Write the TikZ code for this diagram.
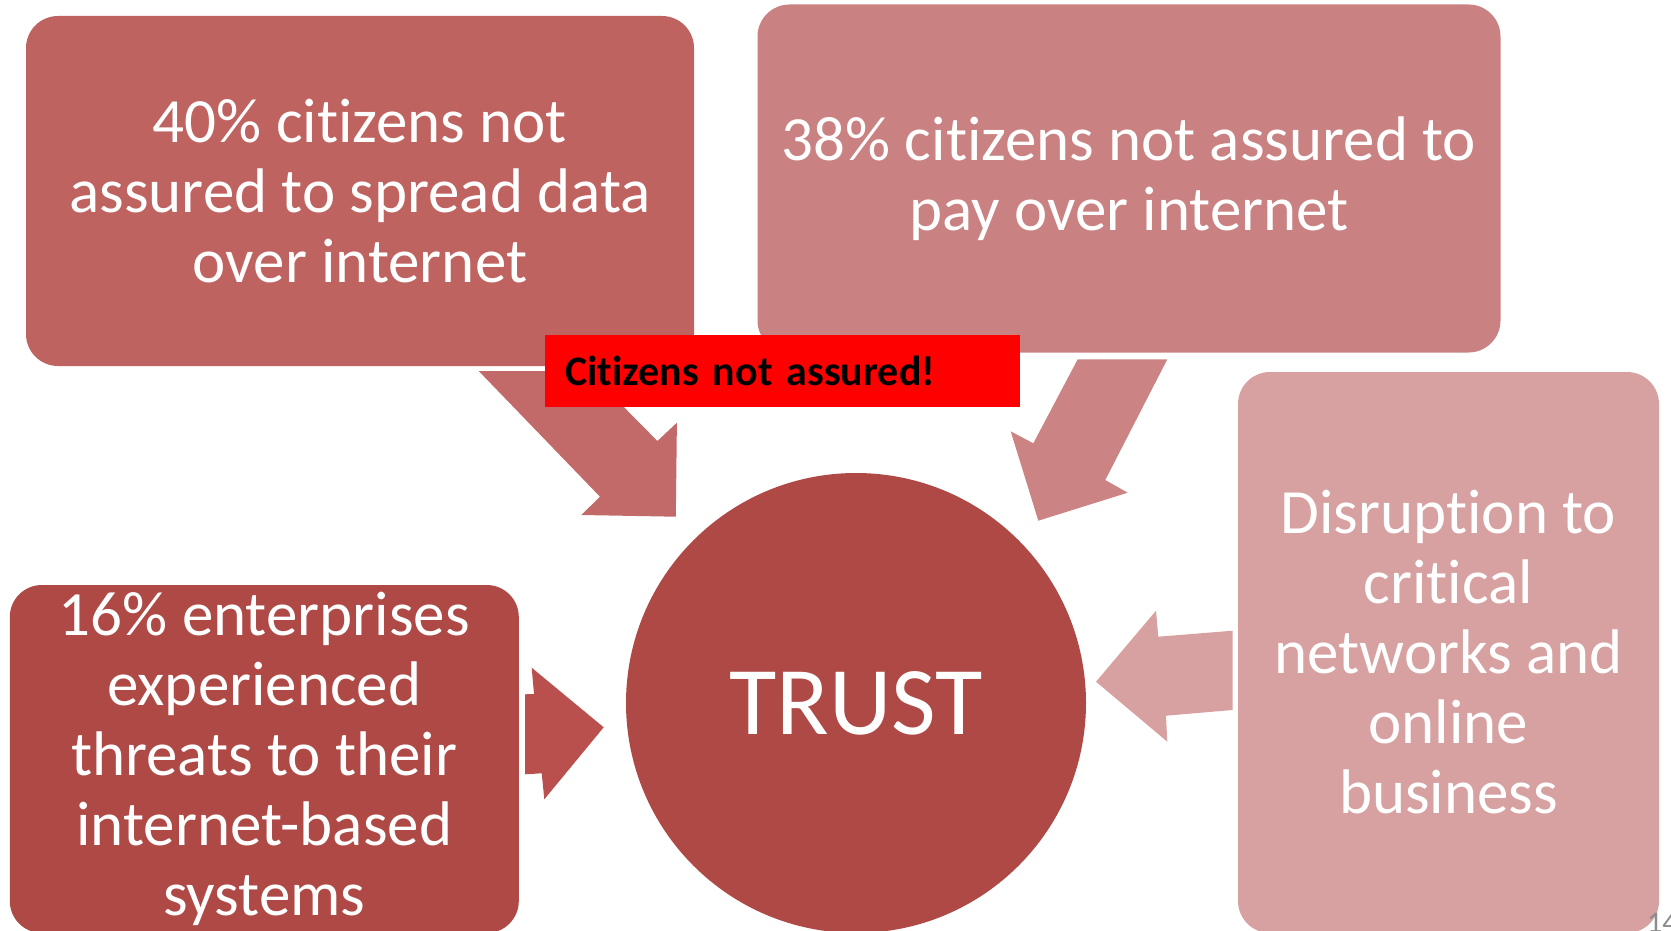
\documentclass[tikz,border=0pt]{standalone}
\usepackage{fontspec}
\setmainfont{Carlito}[Ligatures=NoCommon]
\usepackage{xcolor}
\usepackage{tikz}
\usetikzlibrary{arrows.meta}

\definecolor{dataBox}{RGB}{190,99,96}
\definecolor{payBox}{RGB}{201,129,129}
\definecolor{netBox}{RGB}{214,161,160}
\definecolor{trustRed}{RGB}{174,73,70}
\definecolor{dataArrow}{RGB}{193,106,105}
\definecolor{payArrow}{RGB}{203,132,131}
\definecolor{threatArrow}{RGB}{186,80,78}
\definecolor{pageGray}{RGB}{140,140,140}

\begin{document}
\begin{tikzpicture}[x=1pt, y=-1pt,
  factbox/.style={rectangle, rounded corners=32pt, inner sep=0pt, text=white,
    align=center, font=\fontsize{63}{70}\selectfont},
  warnbox/.style={rectangle, fill=red, inner ysep=0pt, inner xsep=20pt,
    align=left, font=\fontsize{42}{46}\selectfont\bfseries}]

  \useasboundingbox (0,0) rectangle (1671,931);
  \clip (0,0) rectangle (1671,931);

  \node [factbox, fill=dataBox, minimum width=668pt, minimum height=350pt] (S1) at (360,191)
    {40\% citizens not\\assured to spread data\\over internet};
  \node [factbox, fill=payBox, minimum width=743pt, minimum height=348pt] (S2) at (1129,178.5)
    {38\% citizens not assured to\\pay over internet};
  \node [factbox, fill=netBox, minimum width=421pt, minimum height=561pt] (S3) at (1448.5,652.5)
    {Disruption to\\critical\\networks and\\online\\business};
  \node [factbox, fill=trustRed, minimum width=509pt, minimum height=348pt] (S4) at (264.3,759)
    {16\% enterprises\\experienced\\threats to their\\internet-based\\systems};

  \node [circle, fill=trustRed, minimum size=460pt, inner sep=0pt, text=white,
    font=\fontsize{97}{97}\selectfont] (T) at (856,703) {TRUST};

  \fill [dataArrow] (478.7,371) -- (600,496.7) -- (581.3,515) -- (675.8,516.7)
    -- (676.9,422.7) -- (657.4,441) -- (588.2,371) -- cycle;
  \fill [payArrow] (1077.7,359.3) -- (1167.3,359.3) -- (1105.3,480) -- (1127.7,492.7)
    -- (1038.3,520.7) -- (1010.7,431.3) -- (1033.3,443.3) -- cycle;
  \fill [threatArrow] (525,694.3) -- (534,694) -- (531.7,667.7) -- (603.7,727.3)
    -- (544.3,799.3) -- (541.7,773.3) -- (525,774.3) -- cycle;
  \fill [netBox] (1232.7,630.7) -- (1158.3,636.7) -- (1156,610.7) -- (1096,681.7)
    -- (1167.3,741.7) -- (1166,715.7) -- (1232.7,710) -- cycle;

  \node [warnbox, anchor=north west, minimum height=72pt, text width=435pt] (W) at (545,335)
    {Citizens not assured!};

  \node [anchor=north west, inner sep=0pt, text=pageGray,
    font=\fontsize{30}{30}\selectfont] (P) at (1647,913) {14};
\end{tikzpicture}
\end{document}
